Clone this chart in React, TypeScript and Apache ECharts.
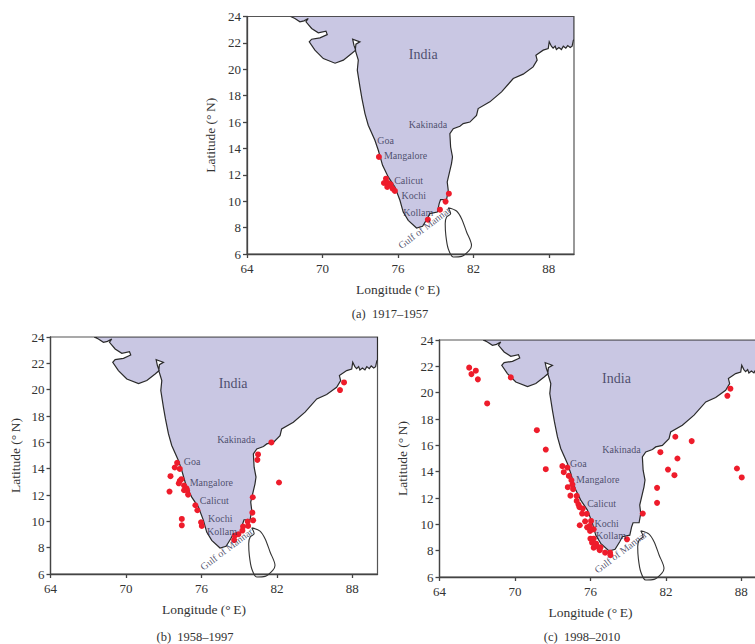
import React, { useEffect, useRef } from "react";
import * as echarts from "echarts";

const SERIF = "'Liberation Serif', serif";
const xTicks = [64, 70, 76, 82, 88];

const coast = [
  [67.47,24],[67.81,23.85],[68.21,23.6],[68.53,23.67],[68.87,23.85],[68.69,23.6],[69.14,23.09],[69.67,22.76],
  [70.28,22.89],[70.38,22.63],[69.8,22.38],[69.14,22.28],[68.95,22.08],[69.4,21.45],[70.07,20.81],[71.0,20.46],
  [71.66,20.69],[72.32,21.19],[72.64,21.45],[72.5,21.83],[72.4,22.28],[72.98,22.08],[72.66,21.9],[72.61,21.45],
  [72.85,20.69],[72.77,19.93],[72.98,18.66],[73.14,17.78],[73.38,16.64],[73.64,15.76],[74.17,14.62],[74.44,13.86],
  [74.78,12.72],[75.23,11.84],[75.76,11.08],[76.16,10.07],[76.42,9.18],[76.82,8.55],[77.48,7.97],[77.96,8.1],
  [78.33,8.68],[78.54,9.06],[79.13,9.18],[79.28,9.82],[79.39,10.12],[79.87,10.12],[80.0,10.83],[79.92,11.46],
  [80.26,12.85],[80.34,13.36],[80.19,14.11],[80.13,15.12],[80.4,15.5],[80.93,15.68],[81.19,15.88],[81.72,16.0],
  [82.25,16.5],[82.38,17.02],[83.31,17.53],[84.24,18.29],[85.17,19.3],[85.96,19.63],[86.75,20.18],[87.07,20.69],
  [86.97,21.07],[87.55,21.45],[87.95,21.57],[88.03,22.08],[88.2,21.75],[88.34,21.6],[88.5,21.75],[88.6,21.5],
  [88.8,21.65],[89.0,21.5],[89.15,21.75],[89.35,21.6],[89.5,21.8],[89.7,21.65],[89.85,21.75],[89.95,22.2],[90,22.25],[90,24],
];

const sriLanka = [
  [80.0,9.51],[80.66,9.26],[81.06,8.68],[81.46,7.67],[81.85,6.65],[81.67,6.28],[81.06,5.82],[80.4,5.77],
  [80.0,6.4],[79.81,7.41],[79.76,8.3],[79.87,8.8],[80.19,9.06],[80.0,9.51],
];

const pointsA = [
  [74.49,13.36],[75.05,11.71],[74.89,11.38],[75.23,11.38],[75.15,11.08],[75.42,11.28],[75.58,10.95],[75.76,10.78],
  [80.05,10.57],[79.79,9.97],[79.34,9.36],[78.38,8.6],
];

const pointsB = [
  [87.34,20.55],[87.02,19.97],[81.56,15.99],[80.5,15.08],[80.45,14.67],[82.17,12.95],[74.07,14.44],[73.88,14.09],
  [74.28,13.98],[73.54,13.43],[74.41,13.2],[74.28,13.07],[74.2,12.89],[74.62,12.72],[74.81,12.51],[74.62,12.36],
  [74.86,12.36],[73.46,12.26],[74.94,12.03],[75.52,11.22],[75.68,10.84],[74.44,10.18],[74.44,9.7],[75.97,9.93],
  [76.03,9.65],[80.08,11.83],[80.05,10.66],[80.11,10.08],[79.68,9.98],[79.71,9.65],[79.31,9.6],[79.26,9.3],
  [78.94,9.02],[78.65,8.91],[78.6,8.58],
];

const pointsC = [
  [66.36,21.9],[66.89,21.67],[66.54,21.41],[67.05,21.01],[67.79,19.18],[69.67,21.16],[71.74,17.15],[72.45,15.68],
  [72.45,14.19],[73.77,14.42],[74.17,14.31],[73.88,13.96],[74.28,13.68],[74.49,13.35],[74.57,13.02],[74.2,12.82],
  [74.62,12.67],[74.41,12.18],[74.91,12.16],[74.91,11.78],[75.05,11.5],[75.13,11.3],[75.39,11.2],[75.34,10.82],
  [75.71,10.79],[75.58,10.23],[75.15,9.93],[76.05,10.26],[75.74,9.77],[75.95,9.88],[75.97,9.5],[76.26,9.62],
  [76.0,8.91],[76.26,8.91],[76.13,8.61],[76.45,8.53],[76.26,8.23],[76.6,8.28],[76.74,8.03],[76.8,8.25],
  [77.17,7.85],[77.56,7.85],[77.59,7.65],[78.91,8.86],[80.16,10.82],[81.3,11.63],[81.3,12.77],[82.68,13.73],
  [82.17,14.16],[82.92,15],[81.56,15.48],[82.75,16.65],[84.05,16.32],[86.89,19.76],[87.13,20.3],[87.65,14.24],
  [88.03,13.56],
];

const placeNames = ["India", "Kakinada", "Goa", "Mangalore", "Calicut", "Kochi", "Kollam", "Gulf of Mannar"];
const placesA = [[76.87,21.1],[76.87,15.83],[74.36,14.57],[74.89,13.43],[75.7,11.56],[76.29,10.45],[76.42,9.16],[78.1,8.0]];
const placesB = [[77.38,20.48],[77.25,16.19],[74.6,14.52],[75.07,12.97],[75.87,11.6],[76.53,10.2],[76.45,9.24],[78.0,7.9]];
const placesC = [[76.93,21.11],[76.95,15.66],[74.38,14.64],[74.86,13.43],[75.74,11.55],[76.32,10.08],[76.45,9.14],[78.4,7.9]];

const captions = ["(a)  1917\u20131957", "(b)  1958\u20131997", "(c)  1998\u20132010"];

const panels = [
  { left: 247, top: 16.5, bottom: 254, points: pointsA, places: placesA, capX: 390, capY: 314, namePad: 25, yGap: 30 },
  { left: 50.5, top: 337, bottom: 574, points: pointsB, places: placesB, capX: 195, capY: 637, namePad: 20, yGap: 28 },
  { left: 439.5, top: 340, bottom: 577, points: pointsC, places: placesC, capX: 582, capY: 637, namePad: 25, yGap: 30 },
];

const WIDTH = 755;
const CANVAS_WIDTH = 790; // panel (c) runs past the right edge of the page and is cropped there
const HEIGHT = 644;
const PLOT_W = 327;
const axisStyle = { color: "#444", width: 1.3 };
const labelColor = "#2f2f4f";

function buildOption() {
  const grid: any[] = [], xAxis: any[] = [], yAxis: any[] = [], series: any[] = [], graphic: any[] = [];
  panels.forEach((p, i) => {
    grid.push({
      left: p.left, top: p.top, width: PLOT_W, height: p.bottom - p.top,
      show: true, borderColor: "#555", borderWidth: 1.2, backgroundColor: "transparent",
    });
    xAxis.push({
      type: "value", gridIndex: i, min: 64, max: 90, interval: 2,
      splitLine: { show: false },
      axisLine: { lineStyle: axisStyle, onZero: false },
      axisTick: { length: 4, lineStyle: axisStyle, customValues: xTicks },
      axisLabel: { color: "#333", fontFamily: SERIF, fontSize: 13, margin: 8, customValues: xTicks },
      name: "Longitude (\u00b0\u2009E)", nameLocation: "middle", nameGap: 28,
      nameTextStyle: { color: "#333", fontFamily: SERIF, fontSize: 13.5, padding: [0, p.namePad, 0, 0] },
    });
    yAxis.push({
      type: "value", gridIndex: i, min: 6, max: 24, interval: 2,
      splitLine: { show: false },
      axisLine: { lineStyle: axisStyle, onZero: false },
      axisTick: { length: 4, lineStyle: axisStyle },
      axisLabel: { color: "#333", fontFamily: SERIF, fontSize: 13, margin: 6 },
      name: "Latitude (\u00b0\u2009N)", nameLocation: "middle", nameGap: p.yGap,
      nameTextStyle: { color: "#333", fontFamily: SERIF, fontSize: 13.5 },
    });
    series.push({
      type: "custom", xAxisIndex: i, yAxisIndex: i, data: coast, clip: true, silent: true, z: 1,
      encode: { x: 0, y: 1 },
      renderItem: (params: any, api: any) =>
        params.dataIndex === 0
          ? {
              type: "polygon",
              shape: { points: coast.map((c) => api.coord(c)) },
              style: { fill: "#c9c7e3", stroke: "#2a2a2a", lineWidth: 1.2 },
            }
          : { type: "group", children: [] },
    });
    series.push({
      type: "line", xAxisIndex: i, yAxisIndex: i, data: sriLanka, clip: false, silent: true, z: 2,
      showSymbol: false, smooth: 0.3, lineStyle: { color: "#333", width: 1.1 },
    });
    series.push({
      type: "scatter", xAxisIndex: i, yAxisIndex: i, data: p.points, z: 3, silent: true,
      symbol: "circle", symbolSize: 6, itemStyle: { color: "#ee1c2b", opacity: 1 },
    });
    series.push({
      type: "scatter", xAxisIndex: i, yAxisIndex: i, z: 4, silent: true, symbolSize: 0,
      data: p.places.map((c, k) => ({
        value: c,
        name: placeNames[k],
        label: k === 7
          ? { show: true, position: "inside", rotate: 37, formatter: "{b}", color: labelColor, fontFamily: SERIF, fontSize: 10 }
          : {
              show: true, position: "right", distance: 0, formatter: "{b}", color: labelColor, fontFamily: SERIF,
              fontSize: k === 0 ? 14 : 10,
            },
      })),
    });
    graphic.push({
      type: "text", x: p.capX, y: p.capY,
      style: { text: captions[i], fill: "#333", font: `12.5px ${SERIF}`, textAlign: "center", textVerticalAlign: "middle" },
    });
  });
  return { animation: false, backgroundColor: "#fff", grid, xAxis, yAxis, series, graphic };
}

export default function App() {
  const ref = useRef<HTMLDivElement>(null);
  useEffect(() => {
    document.body.style.margin = "0";
    document.body.style.overflow = "hidden";
    const chart = echarts.init(ref.current!, null, { renderer: "svg" });
    chart.setOption(buildOption() as any);
    return () => chart.dispose();
  }, []);
  return (
    <div style={{ width: WIDTH, height: HEIGHT, overflow: "hidden" }}>
      <div ref={ref} style={{ width: CANVAS_WIDTH, height: HEIGHT }} />
    </div>
  );
}
